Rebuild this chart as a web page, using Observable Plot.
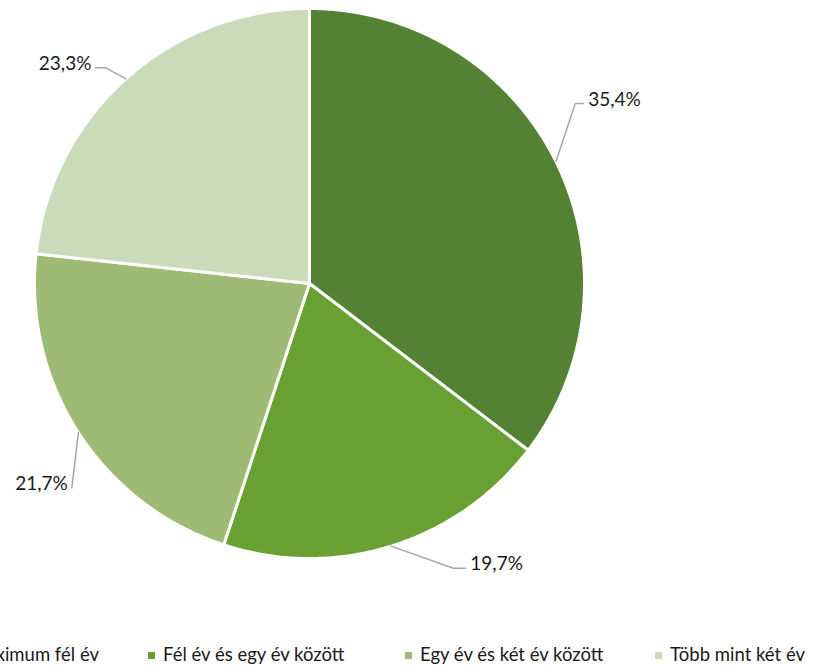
<!DOCTYPE html>
<html>
<head>
<meta charset="utf-8">
<script src="https://cdn.jsdelivr.net/npm/d3@7"></script>
<script src="https://cdn.jsdelivr.net/npm/@observablehq/plot@0.6"></script>
<style>
  html, body { margin: 0; padding: 0; background: #fff; }
  #wrap { position: relative; width: 822px; height: 668px; overflow: hidden; font-family: Lato, "Open Sans", sans-serif; }
  #legend { position: absolute; left: 0; top: 642px; width: 822px; height: 24px; }
  .item { position: absolute; top: 0; white-space: nowrap; font-size: 18.5px; color: #1a1a1a; line-height: 24px; }
  .sw { display: inline-block; width: 7px; height: 7px; margin-right: 8px; vertical-align: middle; position: relative; top: -1px; }
</style>
</head>
<body>
<div id="wrap"><div id="chart"></div><div id="legend"></div></div>
<script>
// Data
const categories = ["Maximum fél év", "Fél év és egy év között", "Egy év és két év között", "Több mint két év"];
const shares = [35.4, 19.7, 21.7, 23.3];
const labels = ["35,4%", "19,7%", "21,7%", "23,3%"];
const colors = ["#548235", "#68a132", "#9dbb75", "#c9dbb9"];

// Layout (not data)
const cx = 309, cy = 283, R = 275;
const labelLayout = [
  {angle: 55.9, r: 1.167, tail: 8},
  {angle: 153.2, r: 1.16, tail: 12},
  {angle: 229.3, r: 1.14, tail: 0},
  {angle: 316.6, r: 1.08, tail: -10}
];
const legendX = [null, 148, 405, 655];
const firstItemRight = 99;

const total = d3.sum(shares);
const slicePts = [];
const leaderPts = [];
const labelPts = [];
let acc = 0;
shares.forEach((v, i) => {
  const a0 = acc / total * 2 * Math.PI;
  acc += v;
  const a1 = acc / total * 2 * Math.PI;
  const cat = categories[i];
  slicePts.push({cat, x: 0, y: 0});
  const n = Math.max(4, Math.ceil((a1 - a0) / (Math.PI / 360)));
  for (let k = 0; k <= n; k++) {
    const a = a0 + (a1 - a0) * k / n;
    slicePts.push({cat, x: Math.sin(a), y: Math.cos(a)});
  }
  const mid = (a0 + a1) / 2;
  const L = labelLayout[i];
  const ea = L.angle * Math.PI / 180;
  const ex = L.r * Math.sin(ea), ey = L.r * Math.cos(ea);
  const tx = ex + L.tail / R;
  leaderPts.push({cat, x: Math.sin(mid), y: Math.cos(mid)});
  leaderPts.push({cat, x: ex, y: ey});
  leaderPts.push({cat, x: tx, y: ey});
  const right = Math.sin(ea) > 0;
  labelPts.push({text: labels[i], x: tx, y: ey, anchor: right ? "start" : "end"});
});

const chart = Plot.plot({
  width: 822,
  height: 640,
  margin: 0,
  x: {domain: [-1, 1], range: [cx - R, cx + R], axis: null},
  y: {domain: [-1, 1], range: [cy + R, cy - R], axis: null},
  color: {domain: categories, range: colors},
  style: {fontFamily: "Lato, 'Open Sans', sans-serif", background: "#fff"},
  marks: [
    Plot.line(slicePts, {x: "x", y: "y", z: "cat", fill: "cat", stroke: "#ffffff", strokeWidth: 3, curve: "linear-closed", strokeLinejoin: "miter"}),
    Plot.line(leaderPts, {x: "x", y: "y", z: "cat", stroke: "#a6a6a6", strokeWidth: 1.5}),
    Plot.text(labelPts.filter(d => d.anchor === "start"), {x: "x", y: "y", text: "text", textAnchor: "start", dx: 5, dy: -4, fontSize: 19, fill: "#1a1a1a"}),
    Plot.text(labelPts.filter(d => d.anchor === "end"), {x: "x", y: "y", text: "text", textAnchor: "end", dx: -4, dy: -4, fontSize: 19, fill: "#1a1a1a"})
  ]
});
document.getElementById("chart").appendChild(chart);

const legend = document.getElementById("legend");
categories.forEach((c, i) => {
  const it = document.createElement("div");
  it.className = "item";
  if (legendX[i] === null) it.style.right = (822 - firstItemRight) + "px";
  else it.style.left = legendX[i] + "px";
  const sw = document.createElement("span");
  sw.className = "sw";
  sw.style.background = colors[i];
  it.appendChild(sw);
  it.appendChild(document.createTextNode(c));
  legend.appendChild(it);
});
</script>
</body>
</html>
